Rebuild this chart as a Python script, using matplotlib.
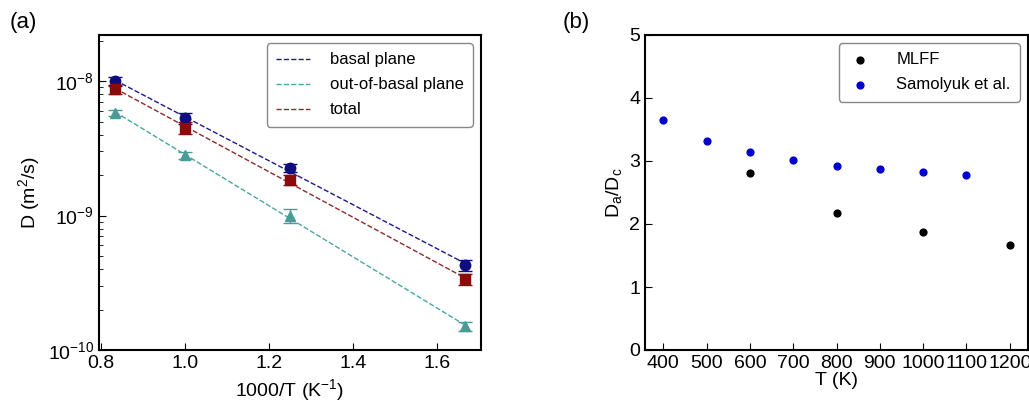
import numpy as np
import matplotlib.pyplot as plt

plt.rcParams['font.family'] = ['Liberation Sans', 'DejaVu Sans']
plt.rcParams['mathtext.fontset'] = 'custom'
plt.rcParams['mathtext.rm'] = 'Liberation Sans'
plt.rcParams['mathtext.it'] = 'Liberation Sans'

# panel (a): diffusion coefficients vs 1000/T
inv_T = [1000 / 1200, 1000 / 1000, 1000 / 800, 1000 / 600]
D_basal = [1.0e-8, 5.3e-9, 2.25e-9, 4.3e-10]
D_basal_err = [0.8e-9, 0.5e-9, 0.15e-9, 0.4e-10]
D_out = [5.8e-9, 2.8e-9, 1.0e-9, 1.5e-10]
D_out_err = [0.3e-9, 0.15e-9, 0.12e-9, 0.12e-10]
D_total = [8.7e-9, 4.5e-9, 1.85e-9, 3.35e-10]
D_total_err = [0.7e-9, 0.45e-9, 0.15e-9, 0.3e-10]

# panel (b): anisotropy ratio
T_mlff = [600, 800, 1000, 1200]
ratio_mlff = [2.81, 2.17, 1.87, 1.66]
T_sam = [400, 500, 600, 700, 800, 900, 1000, 1100]
ratio_sam = [3.65, 3.32, 3.15, 3.02, 2.92, 2.87, 2.83, 2.78]

fig = plt.figure(figsize=(10.29, 4.08), dpi=100)
ax1 = fig.add_axes([99 / 1029, 58 / 408, 382 / 1029, 315 / 408])
ax2 = fig.add_axes([645 / 1029, 58 / 408, 383 / 1029, 315 / 408])

series = [
    (D_basal, D_basal_err, '#0d0d80', '#1a1a8c', 'o', 'basal plane'),
    (D_out, D_out_err, '#4a9a98', '#4aa6a0', '^', 'out-of-basal plane'),
    (D_total, D_total_err, '#8b0a0a', '#8c2a2a', 's', 'total'),
]
x = np.array(inv_T)
for vals, errs, mcol, lcol, mk, lab in series:
    ax1.errorbar(x, vals, yerr=errs, fmt=mk, color=mcol, ms=7.5, capsize=5,
                 elinewidth=1, capthick=1)
    # Arrhenius fit
    p = np.polyfit(x, np.log(vals), 1)
    xf = np.linspace(x[0], x[-1], 50)
    ax1.plot(xf, np.exp(np.polyval(p, xf)), '--', color=lcol, lw=1, label=lab)

ax1.set_yscale('log')
ax1.set_xlim(0.795, 1.705)
ax1.set_ylim(1.0e-10, 2.2e-8)
ax1.set_xticks([0.8, 1.0, 1.2, 1.4, 1.6])
ax1.set_xlabel('1000/T (K$^{-1}$)', fontsize=14)
ax1.set_ylabel('D (m$^2$/s)', fontsize=14)
ax1.legend(loc='upper right', fontsize=12, handlelength=2.0, handletextpad=1.2,
           borderpad=0.55, labelspacing=0.6, fancybox=True, framealpha=1,
           edgecolor='#888888')

ax2.scatter(T_mlff, ratio_mlff, s=24, color='black', label='MLFF')
ax2.scatter(T_sam, ratio_sam, s=24, color='#0000cc', label='Samolyuk et al.')
ax2.set_xlim(358, 1242)
ax2.set_ylim(0, 5)
ax2.set_xticks(range(400, 1201, 100))
ax2.set_yticks(range(0, 6))
ax2.set_xlabel('T (K)', fontsize=14, labelpad=0)
ax2.set_ylabel('D$_a$/D$_c$', fontsize=14)
ax2.legend(loc='upper right', fontsize=12, handlelength=1.5, handletextpad=1.4,
           borderpad=0.55, labelspacing=0.6, fancybox=True, framealpha=1,
           edgecolor='#888888')

for ax in (ax1, ax2):
    ax.tick_params(which='both', direction='in', labelsize=14, top=False, right=False)
    ax.tick_params(which='major', length=5)
    ax.tick_params(which='minor', length=3)
    for s in ax.spines.values():
        s.set_linewidth(1.5)

fig.text(10 / 1029, 1 - 28 / 408, '(a)', fontsize=16)
fig.text(563 / 1029, 1 - 28 / 408, '(b)', fontsize=16)

fig.savefig('out.png', dpi=100)
